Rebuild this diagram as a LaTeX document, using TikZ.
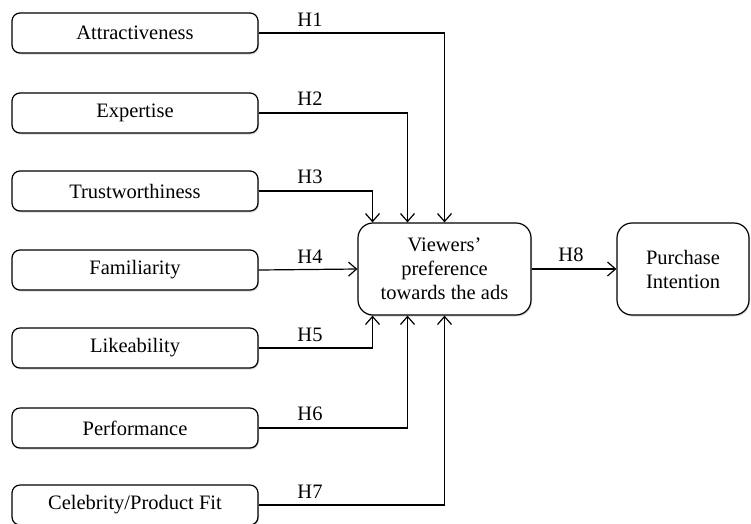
\documentclass[tikz,border=0pt]{standalone}
\usepackage{fontspec}
\setmainfont{Liberation Serif}
\usetikzlibrary{arrows.meta,shadows,calc}
\begin{document}
\begin{tikzpicture}[x=1pt,y=-1pt,
  font=\fontsize{20.5}{24}\selectfont,
  srcbox/.style={draw, line width=1.2pt, rounded corners=8pt, minimum width=246pt, minimum height=40pt, inner sep=0pt, fill=white,
    drop shadow={shadow xshift=1pt, shadow yshift=-1.5pt, fill=black!30}},
  bigbox/.style={draw, line width=1.2pt, rounded corners=15pt, minimum height=92pt, inner sep=0pt, align=center, fill=white,
    drop shadow={shadow xshift=1pt, shadow yshift=-1.5pt, fill=black!30}},
  link/.style={draw, line width=1.2pt, -{Straight Barb[length=8pt,width=14pt,line width=1.2pt]}},
  hlab/.style={inner sep=0pt}]
\useasboundingbox (0,0) rectangle (751,523);
\node[srcbox] (b1) at (135,33) {Attractiveness};
\node[srcbox] (b2) at (135,113) {Expertise};
\node[srcbox] (b3) at (135,191) {Trustworthiness};
\node[srcbox] (b4) at (135,270) {Familiarity};
\node[srcbox] (b5) at (135,348) {Likeability};
\node[srcbox] (b6) at (135,428) {Performance};
\node[srcbox] (b7) at (135,505) {Celebrity/Product Fit};
\node[bigbox, minimum width=173pt] (c) at (444.5,269) {Viewers’\\preference\\towards the ads};
\node[bigbox, minimum width=132pt] (p) at (683,269) {Purchase\\Intention};

\coordinate (t1) at (c.north);
\coordinate (t2) at ($(c.north)+(-37,0)$);
\coordinate (t3) at ($(c.north)+(-72,0)$);
\coordinate (s7) at (c.south);
\coordinate (s6) at ($(c.south)+(-37,0)$);
\coordinate (s5) at ($(c.south)+(-72,0)$);

\draw[link] (b1.east) -| (t1);
\draw[link] (b2.east) -| (t2);
\draw[link] (b3.east) -| (t3);
\draw[link] (b4.east) -- (c.west);
\draw[link] (b5.east) -| (s5);
\draw[link] (b6.east) -| (s6);
\draw[link] (b7.east) -| (s7);
\draw[link] (c.east) -- (p.west);

\node[hlab] (h1) at (310,20) {H1};
\node[hlab] (h2) at (310,99) {H2};
\node[hlab] (h3) at (310,177) {H3};
\node[hlab] (h4) at (310,257) {H4};
\node[hlab] (h5) at (310,335) {H5};
\node[hlab] (h6) at (310,414) {H6};
\node[hlab] (h7) at (310,492) {H7};
\node[hlab] (h8) at (571,255) {H8};
\end{tikzpicture}
\end{document}
